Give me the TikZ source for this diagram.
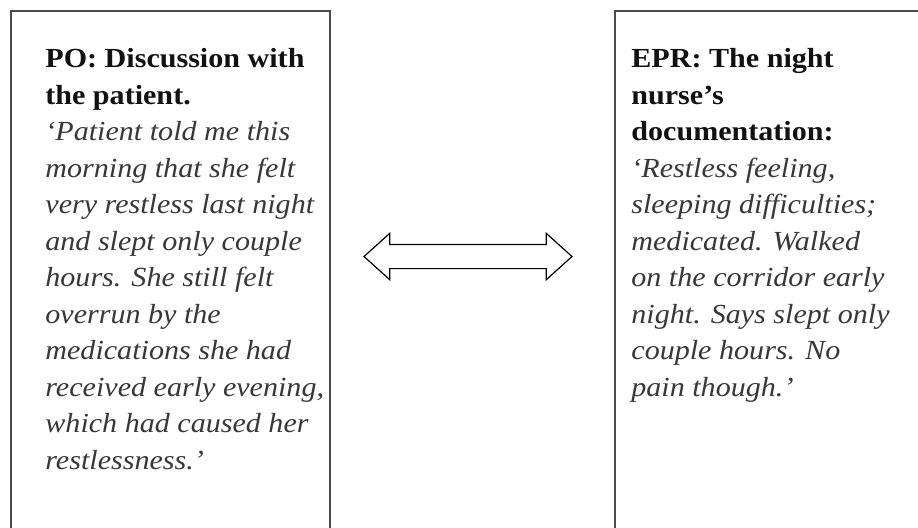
\documentclass[tikz,border=0pt]{standalone}
\usepackage{fontspec}
\setmainfont{Liberation Serif}[FakeStretch=1.09]
\usetikzlibrary{positioning,shapes.arrows}
\definecolor{frame}{HTML}{4A4A4A}
\definecolor{quote}{HTML}{383838}
\definecolor{head}{HTML}{111111}
\newcommand{\hd}[1]{{\bfseries\color{head}#1}}
\newcommand{\qt}[1]{{\itshape\color{quote}#1}}

\begin{document}
\begin{tikzpicture}[
  x=0.5pt, y=-0.5pt,
  every node/.style={font=\fontsize{13.8}{18.25}\selectfont},
  panel/.style={
    rectangle, draw=frame, line width=1pt, fill=white,
    minimum width=159.5pt, minimum height=275pt, inner sep=0pt, anchor=north west
  },
  note/.style={anchor=north west, align=left, inner sep=0pt},
  link/.style={
    double arrow, draw=black, line width=0.6pt, fill=white, inner sep=0pt,
    text height=11.5pt, text depth=0pt, minimum height=104pt,
    double arrow head extend=5.5pt, double arrow tip angle=84
  },
]
\path[clip, use as bounding box] (0,0) rectangle (918,527);

% Left box: progress note
\node[panel] (po) at (10,10) {};
\node[note]  (potext) at (45,48) {%
  \hd{PO: Discussion with}\\
  \hd{the patient.}\\
  \qt{`Patient told me this}\\
  \qt{morning that she felt}\\
  \qt{very restless last night}\\
  \qt{and slept only couple}\\
  \qt{hours. She still felt}\\
  \qt{overrun by the}\\
  \qt{medications she had}\\
  \qt{received early evening,}\\
  \qt{which had caused her}\\
  \qt{restlessness.'}};

% Right box: electronic patient record
\node[panel] (epr) at (614,10) {};
\node[note]  (eprtext) at (631,48) {%
  \hd{EPR: The night}\\
  \hd{nurse's}\\
  \hd{documentation:}\\
  \qt{`Restless feeling,}\\
  \qt{sleeping difficulties;}\\
  \qt{medicated. Walked}\\
  \qt{on the corridor early}\\
  \qt{night. Says slept only}\\
  \qt{couple hours. No}\\
  \qt{pain though.'}};

% Double arrow between the boxes
\node[link] (cmp) at (468,256.5) {};
\end{tikzpicture}
\end{document}
